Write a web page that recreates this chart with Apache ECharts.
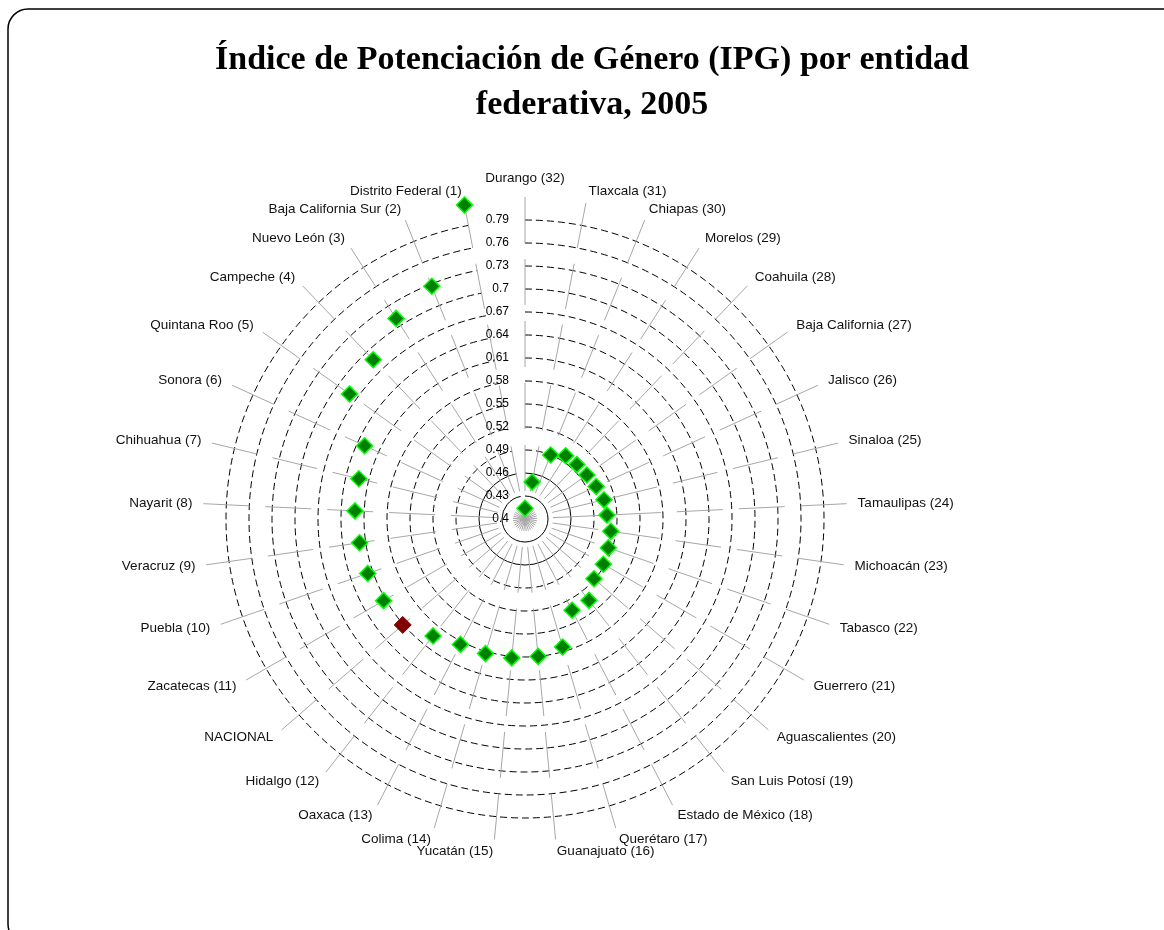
<!DOCTYPE html>
<html>
<head>
<meta charset="utf-8">
<title>IPG por entidad federativa, 2005</title>
<script src="https://cdn.jsdelivr.net/npm/echarts@6/dist/echarts.min.js"></script>
<style>
    html, body { margin: 0; padding: 0; background: #fff; }
    #chart { width: 1164px; height: 930px; }
</style>
</head>
<body>
<div id="chart"></div>
<script>
// categories, clockwise from the top
var entidades = [
    'Durango (32)', 'Tlaxcala (31)', 'Chiapas (30)', 'Morelos (29)', 'Coahuila (28)',
    'Baja California (27)', 'Jalisco (26)', 'Sinaloa (25)', 'Tamaulipas (24)', 'Michoacán (23)',
    'Tabasco (22)', 'Guerrero (21)', 'Aguascalientes (20)', 'San Luis Potosí (19)',
    'Estado de México (18)', 'Querétaro (17)', 'Guanajuato (16)', 'Yucatán (15)', 'Colima (14)',
    'Oaxaca (13)', 'Hidalgo (12)', 'NACIONAL', 'Zacatecas (11)', 'Puebla (10)', 'Veracruz (9)',
    'Nayarit (8)', 'Chihuahua (7)', 'Sonora (6)', 'Quintana Roo (5)', 'Campeche (4)',
    'Nuevo León (3)', 'Baja California Sur (2)', 'Distrito Federal (1)'
];

// IPG values, same order
var ipg = [
    0.414, 0.449, 0.490, 0.498, 0.498,
    0.499, 0.502, 0.506, 0.507, 0.513,
    0.515, 0.518, 0.519, 0.535,
    0.534, 0.574, 0.580, 0.582, 0.583,
    0.584, 0.594, 0.611, 0.613, 0.617, 0.618,
    0.622, 0.623, 0.630, 0.681, 0.687,
    0.711, 0.727, 0.817
];

// radial tick labels that are printed
var ringLabels = ['0.4', '0.43', '0.46', '0.49', '0.52', '0.55', '0.58', '0.61',
    '0.64', '0.67', '0.7', '0.73', '0.76', '0.79'];

var nacional = 'NACIONAL';

var CX = 525, CY = 519, R = 322, LABEL_MARGIN = 11;
var labelFont = '13.5px "Liberation Sans", Arial, sans-serif';

// measure text so the near-vertical labels can be pushed to one side
var measureCtx = document.createElement('canvas').getContext('2d');
measureCtx.font = labelFont;

// echarts centres labels close to the vertical; the original puts them beside the spoke
function sideAlign(i) {
    var a = i * 2 * Math.PI / entidades.length;
    var dx = (R + LABEL_MARGIN) * Math.sin(a);
    var lib = Math.abs(dx) / R < 0.3 ? 'center' : (dx > 0 ? 'left' : 'right');
    var want = i === 0 ? 'center' : (Math.sin(a) > 0 ? 'left' : 'right');
    return lib === 'center' && want !== 'center' ? want : null;
}

var rich = {};
entidades.forEach(function (name, i) {
    var side = sideAlign(i);
    var w = Math.ceil(measureCtx.measureText(name).width);
    var st = { lineHeight: 1, padding: [0, 0, 0, 0] };
    if (side === 'left') st.padding = [0, 0, 0, w];
    if (side === 'right') st.padding = [0, w, 0, 0];
    if (i === 0) st.padding = [0, 0, 14, 0];
    rich['c' + i] = st;
});

var chart = echarts.init(document.getElementById('chart'));

var scatterData = ipg.map(function (v, i) {
    var item = { value: [v, i] };
    if (entidades[i] === nacional) {
        item.symbolSize = 17;
        item.itemStyle = { color: '#800000', borderColor: '#800000', borderWidth: 1 };
    }
    return item;
});

var T = 'rgba(0,0,0,0)';
var ringColors = [T, T, T];
for (var k = 3; k < 14; k++) ringColors.push('#000');
ringColors.push(T);

var option = {
    animation: false,
    title: {
        text: 'Índice de Potenciación de Género (IPG) por entidad\nfederativa, 2005',
        left: 587,
        top: 33,
        textAlign: 'center',
        textStyle: {
            fontFamily: '"Liberation Serif", "Times New Roman", serif',
            fontWeight: 'bold',
            fontSize: 34,
            lineHeight: 45,
            color: '#000'
        }
    },
    graphic: [{
        type: 'rect',
        shape: { x: 8, y: 9, width: 1180, height: 935, r: 20 },
        style: { fill: 'none', stroke: '#000', lineWidth: 1.5 },
        silent: true,
        z: -1
    }],
    polar: [
        { center: [CX, CY], radius: R },
        { center: [CX, CY], radius: R * 2 / 14 }
    ],
    angleAxis: [{
        polarIndex: 0,
        type: 'category',
        data: entidades,
        startAngle: 90,
        clockwise: true,
        boundaryGap: false,
        axisLine: { show: false },
        axisTick: { show: false },
        splitLine: {
            show: true,
            lineStyle: { color: '#a6a6a6', width: 1, type: [46, 16] }
        },
        axisLabel: {
            show: true,
            interval: 0,
            margin: LABEL_MARGIN,
            color: '#111',
            fontSize: 13.5,
            lineHeight: 1,
            fontFamily: '"Liberation Sans", Arial, sans-serif',
            formatter: function (value, index) {
                return '{c' + index + '|' + value + '}';
            },
            rich: rich
        }
    }, {
        polarIndex: 1,
        type: 'category',
        data: entidades,
        startAngle: 90,
        boundaryGap: false,
        axisLine: { show: false },
        axisTick: { show: false },
        axisLabel: { show: false },
        splitLine: { show: false }
    }],
    radiusAxis: [{
        polarIndex: 0,
        type: 'value',
        min: 0.4,
        max: 0.82,
        interval: 0.03,
        axisLine: { show: false },
        axisTick: { show: false },
        axisLabel: {
            margin: 16,
            fontSize: 12,
            color: '#000',
            fontFamily: '"Liberation Sans", Arial, sans-serif',
            padding: [0, 0, 6, 0],
            formatter: function (v) {
                var s = String(Math.round(v * 100) / 100);
                return ringLabels.indexOf(s) >= 0 ? s : '';
            }
        },
        splitLine: {
            show: true,
            lineStyle: { color: ringColors, width: 1, type: [7, 4] }
        }
    }, {
        polarIndex: 1,
        type: 'value',
        min: 0.4,
        max: 0.46,
        interval: 0.03,
        axisLine: { show: false },
        axisTick: { show: false },
        axisLabel: { show: false },
        splitLine: {
            show: true,
            lineStyle: { color: [T, '#000', '#000'], width: 1, type: 'solid' }
        }
    }],
    series: [{
        type: 'scatter',
        coordinateSystem: 'polar',
        polarIndex: 0,
        symbol: 'diamond',
        symbolSize: 16,
        itemStyle: { color: '#008000', borderColor: '#00ff00', borderWidth: 1.5, opacity: 1 },
        data: scatterData,
        z: 5
    }]
};

chart.setOption(option);
</script>
</body>
</html>
